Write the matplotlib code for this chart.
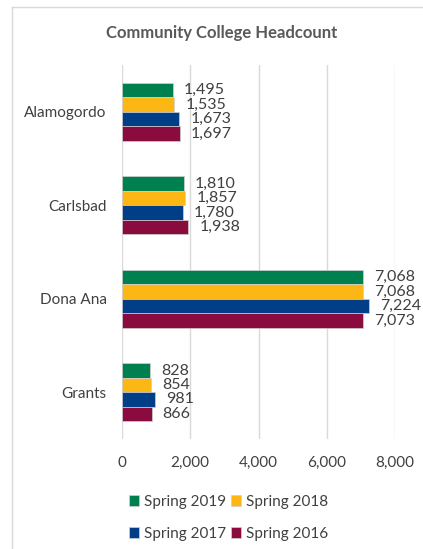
import matplotlib.pyplot as plt
import numpy as np
from matplotlib.lines import Line2D

colleges = ['Alamogordo', 'Carlsbad', 'Dona Ana', 'Grants']
series = ['Spring 2019', 'Spring 2018', 'Spring 2017', 'Spring 2016']
spring_2019 = [1495, 1810, 7068, 828]
spring_2018 = [1535, 1857, 7068, 854]
spring_2017 = [1673, 1780, 7224, 981]
spring_2016 = [1697, 1938, 7073, 866]
colors = ['#00804F', '#FDB714', '#003F87', '#8A0C3F']

plt.rcParams['font.family'] = ['Lato', 'DejaVu Sans']

fig = plt.figure(figsize=(4.23, 5.49), dpi=100)
ax = fig.add_axes([122 / 423, 1 - 439 / 549, 273 / 423, 374 / 549])

values = [spring_2019, spring_2018, spring_2017, spring_2016]
y = np.arange(len(colleges))
h = 0.155
bars = []
for i, (name, vals, c) in enumerate(zip(series, values, colors)):
    pos = y + (i - 1.5) * h
    b = ax.barh(pos, vals, height=h, color=c, edgecolor='#d0d0d0', linewidth=0.5,
                label=name, zorder=3)
    bars.append(b)
    for p, v in zip(pos, vals):
        ax.annotate(f'{v:,}', (v, p), xytext=(8, 0), textcoords='offset points',
                    va='center', ha='left', fontsize=11.5, color='#404040')

ax.set_xlim(0, 8000)
ax.set_ylim(3.5, -0.5)
ax.set_xticks([0, 2000, 4000, 6000, 8000])
ax.set_xticklabels(['0', '2,000', '4,000', '6,000', '8,000'])
ax.set_yticks(y)
ax.set_yticklabels(colleges)
ax.tick_params(axis='both', length=0, colors='#404040', labelsize=11)
ax.tick_params(axis='x', pad=12)
ax.tick_params(axis='y', pad=11)
ax.grid(axis='x', color='#d9d9d9', linewidth=1, zorder=0)
for s in ax.spines.values():
    s.set_visible(False)

fig.text(0.525, 1 - 33 / 549, 'Community College Headcount', ha='center', va='center',
         fontsize=12, fontweight='bold', color='#595959')

# row-wise legend order
order = [0, 2, 1, 3]
fig.legend([bars[k] for k in order], [series[k] for k in order],
           loc='upper left', bbox_to_anchor=(121 / 423, 1 - 487 / 549), ncol=2,
           frameon=False, fontsize=11, labelcolor='#404040', handlelength=0.7,
           handleheight=0.7, handletextpad=0.3, columnspacing=0.3, labelspacing=1.2,
           borderpad=0)

fig.add_artist(Line2D([12 / 423, 1], [1 - 7 / 549, 1 - 7 / 549], color='#d9d9d9', lw=1))
fig.add_artist(Line2D([12 / 423, 12 / 423], [0, 1 - 7 / 549], color='#d9d9d9', lw=1))

fig.savefig('out.png', dpi=100)
